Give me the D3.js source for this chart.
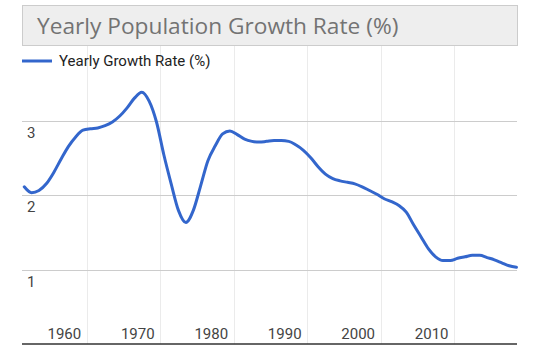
<!DOCTYPE html>
<html>
<head>
<meta charset="utf-8">
<script src="https://cdn.jsdelivr.net/npm/d3@7"></script>
<style>
  html, body { margin: 0; padding: 0; background: #fff; }
  svg { display: block; }
</style>
</head>
<body>
<svg id="chart" width="540" height="361"></svg>
<script>
// ---- data ----
const titleText = "Yearly Population Growth Rate (%)";
const seriesName = "Yearly Growth Rate (%)";
const years = [];
for (let y = 1951; y <= 2018; y++) years.push(y);
const growthRate = [
  2.11, 2.03, 2.06, 2.15, 2.30, 2.48, 2.65, 2.78, 2.87, 2.89,
  2.90, 2.93, 2.98, 3.06, 3.17, 3.30, 3.38, 3.26, 2.98, 2.54,
  2.15, 1.79, 1.63, 1.79, 2.12, 2.46, 2.66, 2.82, 2.86, 2.81,
  2.75, 2.72, 2.71, 2.72, 2.73, 2.73, 2.72, 2.67, 2.60, 2.50,
  2.38, 2.28, 2.22, 2.19, 2.17, 2.15, 2.11, 2.06, 2.01, 1.95,
  1.91, 1.86, 1.77, 1.60, 1.44, 1.28, 1.17, 1.12, 1.12, 1.15,
  1.17, 1.19, 1.19, 1.16, 1.13, 1.09, 1.05, 1.03
];
const xTickYears = [1960, 1970, 1980, 1990, 2000, 2010];
const yTickValues = [1, 2, 3];

// ---- layout ----
const svg = d3.select("#chart");
const plot = { left: 22, right: 517, top: 46, bottom: 344 };

const x = d3.scaleLinear().domain([1960, 2010]).range([86.7, 454]);
const y = d3.scaleLinear().domain([0, 4]).range([plot.bottom, plot.top]);

// vertical gridlines
svg.append("g").selectAll("line").data(xTickYears).join("line")
  .attr("x1", d => Math.round(x(d)) + 0.5).attr("x2", d => Math.round(x(d)) + 0.5)
  .attr("y1", plot.top).attr("y2", plot.bottom)
  .attr("stroke", "#ebebeb").attr("stroke-width", 1);

// horizontal gridlines
svg.append("g").selectAll("line").data(yTickValues).join("line")
  .attr("x1", plot.left).attr("x2", plot.right)
  .attr("y1", d => Math.round(y(d)) + 0.5).attr("y2", d => Math.round(y(d)) + 0.5)
  .attr("stroke", "#cccccc").attr("stroke-width", 1);

// y labels
svg.append("g").selectAll("text").data(yTickValues).join("text")
  .attr("x", 27).attr("y", d => y(d) + 17)
  .attr("font-family", "Roboto, sans-serif").attr("font-size", 15)
  .attr("fill", "#444").text(d => d);

// x labels
svg.append("g").selectAll("text").data(xTickYears).join("text")
  .attr("x", d => x(d) - 5.5).attr("y", 338.5)
  .attr("text-anchor", "end")
  .attr("font-family", "Roboto, sans-serif").attr("font-size", 15)
  .attr("fill", "#444").text(d => d);

// baseline
svg.append("line")
  .attr("x1", plot.left).attr("x2", plot.right)
  .attr("y1", y(0)).attr("y2", y(0))
  .attr("stroke", "#333").attr("stroke-width", 1.6);

// line series (values at mid-year)
const pts = years.map((yr, i) => [yr + 0.5, growthRate[i]]);
const line = d3.line().x(d => x(d[0])).y(d => y(d[1])).curve(d3.curveMonotoneX);
svg.append("path").datum(pts)
  .attr("d", line).attr("fill", "none")
  .attr("stroke", "#3366cc").attr("stroke-width", 3)
  .attr("stroke-linejoin", "round").attr("stroke-linecap", "round");

// title box
svg.append("rect")
  .attr("x", 22.5).attr("y", 5.5).attr("width", 495).attr("height", 40)
  .attr("fill", "#eeeeee").attr("stroke", "#cccccc").attr("stroke-width", 1);
svg.append("text")
  .attr("x", 37).attr("y", 33.5)
  .attr("font-family", "'Open Sans', sans-serif").attr("font-size", 22.7)
  .attr("fill", "#737373").text(titleText);

// legend
svg.append("line")
  .attr("x1", 22).attr("x2", 52).attr("y1", 61).attr("y2", 61)
  .attr("stroke", "#3366cc").attr("stroke-width", 3);
svg.append("text")
  .attr("x", 59).attr("y", 66.3)
  .attr("font-family", "Roboto, sans-serif").attr("font-size", 15)
  .attr("fill", "#222").text(seriesName);
</script>
</body>
</html>
